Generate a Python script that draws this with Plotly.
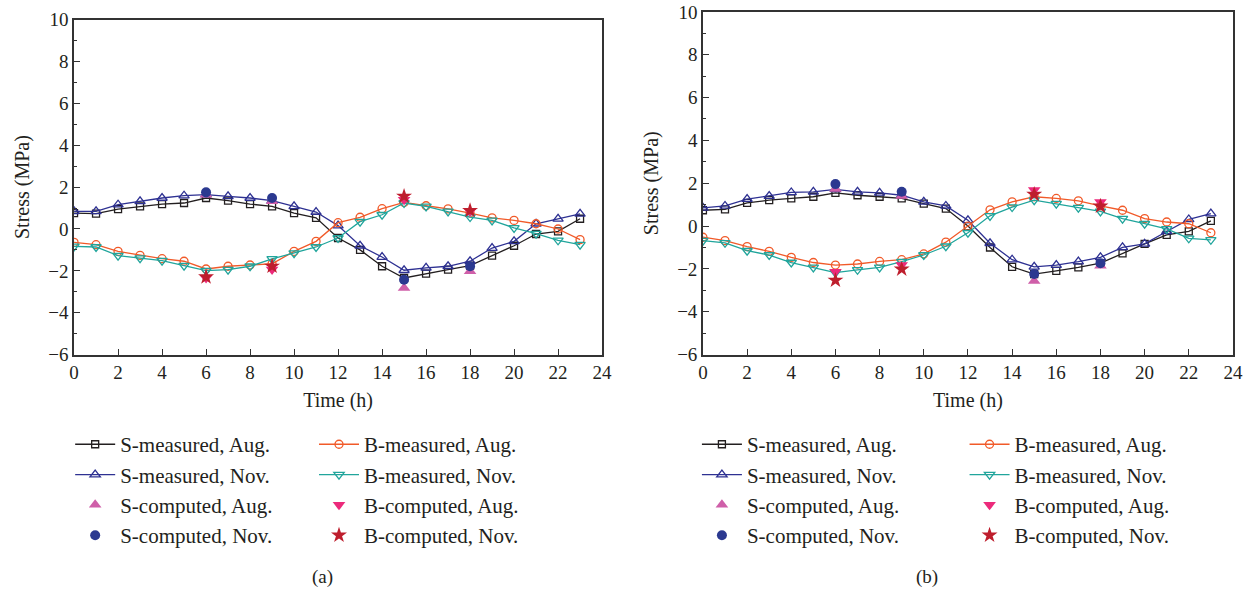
import plotly.graph_objects as go

hours = list(range(24))
comp_hours = [6, 9, 15, 18]
x_ticks = list(range(0, 25, 2))
y_ticks = list(range(-6, 11, 2))

# (a)
s_meas_aug_a = [0.76, 0.73, 0.95, 1.08, 1.19, 1.24, 1.48, 1.35, 1.19, 1.08, 0.76, 0.53,
                -0.43, -1.00, -1.78, -2.34, -2.13, -1.94, -1.75, -1.27, -0.80, -0.24, -0.11, 0.49]
s_meas_nov_a = [0.84, 0.84, 1.16, 1.32, 1.48, 1.59, 1.64, 1.56, 1.48, 1.35, 1.08, 0.81,
                0.16, -0.80, -1.34, -1.97, -1.86, -1.78, -1.54, -0.91, -0.59, 0.25, 0.48, 0.72]
b_meas_aug_a = [-0.64, -0.75, -1.07, -1.26, -1.42, -1.54, -1.91, -1.78, -1.72, -1.66, -1.07, -0.59,
                0.30, 0.56, 0.97, 1.27, 1.11, 0.96, 0.76, 0.53, 0.41, 0.25, 0.00, -0.51]
b_meas_nov_a = [-0.83, -0.86, -1.27, -1.39, -1.51, -1.75, -1.99, -1.94, -1.78, -1.43, -1.15, -0.86,
                -0.43, 0.35, 0.68, 1.24, 1.08, 0.84, 0.57, 0.41, 0.05, -0.22, -0.54, -0.75]
s_comp_aug_a = [1.64, 1.32, -2.82, -2.02]
s_comp_nov_a = [1.75, 1.48, -2.42, -1.78]
b_comp_aug_a = [-2.34, -1.94, 1.40, 0.84]
b_comp_nov_a = [-2.29, -1.78, 1.56, 0.88]

# (b)
s_meas_aug_b = [0.74, 0.78, 1.08, 1.21, 1.29, 1.37, 1.55, 1.44, 1.37, 1.29, 1.05, 0.82,
                0.00, -1.00, -1.90, -2.24, -2.09, -1.93, -1.73, -1.27, -0.83, -0.41, -0.25, 0.24]
s_meas_nov_b = [0.85, 0.94, 1.26, 1.40, 1.57, 1.60, 1.71, 1.60, 1.55, 1.44, 1.13, 0.94,
                0.27, -0.80, -1.57, -1.90, -1.82, -1.66, -1.46, -0.99, -0.83, -0.25, 0.31, 0.58]
b_meas_aug_b = [-0.52, -0.68, -0.96, -1.18, -1.46, -1.70, -1.82, -1.77, -1.65, -1.57, -1.30, -0.75,
                0.00, 0.76, 1.13, 1.37, 1.29, 1.18, 0.94, 0.74, 0.35, 0.19, 0.11, -0.31]
b_meas_nov_b = [-0.68, -0.78, -1.15, -1.35, -1.70, -1.93, -2.17, -2.04, -1.93, -1.66, -1.35, -0.94,
                -0.31, 0.48, 0.89, 1.21, 1.05, 0.86, 0.69, 0.35, 0.11, -0.13, -0.57, -0.64]
s_comp_aug_b = [1.73, 1.41, -2.56, -1.85]
s_comp_nov_b = [1.96, 1.60, -2.24, -1.73]
b_comp_aug_b = [-2.13, -1.82, 1.68, 1.13]
b_comp_nov_b = [-2.53, -2.01, 1.48, 0.93]

names = ["S-measured, Aug.", "S-measured, Nov.", "S-computed, Aug.", "S-computed, Nov.",
         "B-measured, Aug.", "B-measured, Nov.", "B-computed, Aug.", "B-computed, Nov."]

C_BLACK = "#231f20"
C_BLUE = "#2e3192"
C_ORANGE = "#f15a29"
C_TEAL = "#21a59c"
C_PINK = "#cf5fa9"
C_MAGENTA = "#ec2a7b"
C_NAVY = "#2b3990"
C_RED = "#be1e2d"

FONT = "Liberation Serif"
TXT = "#231f20"
fig = go.Figure()


def add_panel(xa, ya, data, leg1, leg2):
    smA, smN, bmA, bmN, scA, scN, bcA, bcN = data
    lines = [
        (smA, names[0], C_BLACK, "square-open", 7, leg1),
        (smN, names[1], C_BLUE, "triangle-up-open", 9, leg1),
        (bmA, names[4], C_ORANGE, "circle-open", 8, leg2),
        (bmN, names[5], C_TEAL, "triangle-down-open", 9, leg2),
    ]
    for vals, nm, col, sym, sz, lg in lines:
        fig.add_trace(go.Scatter(
            x=hours, y=vals, name=nm, mode="lines+markers", xaxis=xa, yaxis=ya,
            line=dict(color=col, width=1.3),
            marker=dict(symbol=sym, size=sz, color=col, line=dict(width=1.3, color=col)),
            legend=lg, legendgroup=lg + nm, legendrank=names.index(nm)))
    pts = [
        (scA, names[2], C_PINK, "triangle-up", 11, leg1),
        (bcA, names[6], C_MAGENTA, "triangle-down", 11, leg2),
        (scN, names[3], C_NAVY, "circle", 10, leg1),
        (bcN, names[7], C_RED, "star", 12, leg2),
    ]
    for vals, nm, col, sym, sz, lg in pts:
        fig.add_trace(go.Scatter(
            x=comp_hours, y=vals, name=nm, mode="markers", xaxis=xa, yaxis=ya,
            marker=dict(symbol=sym, size=sz, color=col, line=dict(width=0)),
            legend=lg, legendgroup=lg + nm, legendrank=names.index(nm)))


add_panel("x", "y", (s_meas_aug_a, s_meas_nov_a, b_meas_aug_a, b_meas_nov_a,
                     s_comp_aug_a, s_comp_nov_a, b_comp_aug_a, b_comp_nov_a), "legend", "legend2")
add_panel("x2", "y2", (s_meas_aug_b, s_meas_nov_b, b_meas_aug_b, b_meas_nov_b,
                       s_comp_aug_b, s_comp_nov_b, b_comp_aug_b, b_comp_nov_b), "legend3", "legend4")

axis_common = dict(showgrid=False, zeroline=False, showline=True, linecolor="#333333",
                   linewidth=1.5, mirror=True, ticks="inside", ticklen=6, tickwidth=1.3,
                   tickcolor="#333333", automargin=False,
                   tickfont=dict(family=FONT, size=19, color=TXT))
xcommon = dict(axis_common, range=[0, 24], tickvals=x_ticks,
               title=dict(text="Time (h)", font=dict(family=FONT, size=20, color=TXT), standoff=11))
ycommon = dict(axis_common, range=[-6, 10], tickvals=y_ticks,
               minor=dict(ticks="inside", ticklen=3, tickwidth=1.2, tickcolor="#333333", dtick=1),
               title=dict(text="Stress (MPa)", font=dict(family=FONT, size=20, color=TXT), standoff=13))

legend_common = dict(orientation="v", font=dict(family=FONT, size=21, color=TXT),
                     bgcolor="rgba(0,0,0,0)", tracegroupgap=11, xanchor="left", yanchor="top",
                     traceorder="normal", itemwidth=40)

fig.update_layout(
    width=1253, height=594,
    margin=dict(l=0, r=0, t=0, b=0),
    paper_bgcolor="white", plot_bgcolor="white",
    xaxis=dict(xcommon, domain=[0.0591, 0.4805], anchor="y"),
    yaxis=dict(ycommon, domain=[0.403, 0.967], anchor="x"),
    xaxis2=dict(xcommon, domain=[0.561, 0.984], anchor="y2"),
    yaxis2=dict(ycommon, domain=[0.403, 0.980], anchor="x2"),
    legend=dict(legend_common, x=0.056, y=0.286),
    legend2=dict(legend_common, x=0.2506, y=0.286),
    legend3=dict(legend_common, x=0.5562, y=0.286),
    legend4=dict(legend_common, x=0.7698, y=0.286),
    annotations=[
        dict(text="(a)", x=310 / 1253, y=1 - 577 / 594, xref="paper", yref="paper",
             yanchor="middle", showarrow=False, font=dict(family=FONT, size=19, color=TXT)),
        dict(text="(b)", x=940 / 1253, y=1 - 577 / 594, xref="paper", yref="paper",
             yanchor="middle", showarrow=False, font=dict(family=FONT, size=19, color=TXT)),
    ],
)

fig.write_html("out.html", config={"displayModeBar": False},
               post_script="document.body.style.margin='0px';")
